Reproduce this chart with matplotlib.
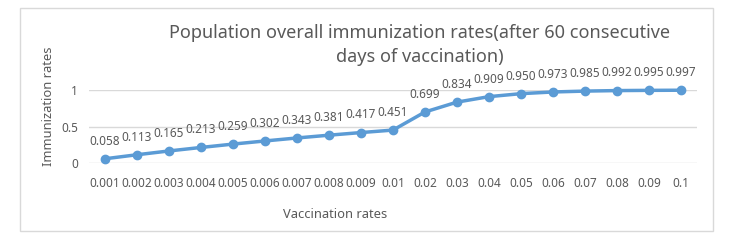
import matplotlib.pyplot as plt
from matplotlib.patches import Rectangle

vacc_labels = ['0.001', '0.002', '0.003', '0.004', '0.005', '0.006', '0.007',
               '0.008', '0.009', '0.01', '0.02', '0.03', '0.04', '0.05',
               '0.06', '0.07', '0.08', '0.09', '0.1']
immunization = [0.058, 0.113, 0.165, 0.213, 0.259, 0.302, 0.343, 0.381, 0.417,
                0.451, 0.699, 0.834, 0.909, 0.950, 0.973, 0.985, 0.992, 0.995,
                0.997]
y_ticks = [0, 0.5, 1]
y_tick_labels = ['0', '0.5', '1']

plt.rcParams['font.family'] = ['Noto Sans', 'DejaVu Sans']
txt = '#595959'
blue = '#5B9BD5'

W, H = 740, 244
fig = plt.figure(figsize=(W / 100, H / 100), dpi=100)

# chart border
fig.patches.append(Rectangle((20 / W, 1 - 231 / H), 693 / W, 223 / H,
                             transform=fig.transFigure, fill=False,
                             edgecolor='#D9D9D9', linewidth=1))

ax = fig.add_axes([89 / W, 1 - 163 / H, 608 / W, 73 / H])
x = list(range(len(vacc_labels)))
ax.plot(x, immunization, color=blue, linewidth=2.5, marker='o',
        markersize=6, clip_on=False, zorder=3)
for xi, v in zip(x, immunization):
    ax.annotate(f'{v:.3f}', (xi, v), xytext=(0, 8), textcoords='offset points',
                ha='center', va='bottom', fontsize=8.5, color=txt)

ax.set_xlim(-0.5, len(vacc_labels) - 0.5)
ax.set_ylim(0, 1)
ax.set_xticks(x)
ax.set_xticklabels(vacc_labels)
ax.set_yticks(y_ticks)
ax.set_yticklabels(y_tick_labels)
ax.tick_params(length=0, labelsize=8.5, colors=txt, pad=8)
ax.tick_params(axis='x', pad=10)
ax.yaxis.grid(True, color='#D9D9D9', linewidth=1)
ax.set_axisbelow(True)
for s in ax.spines.values():
    s.set_visible(False)

fig.text(48 / W, 1 - 106 / H, 'Immunization rates', rotation=90,
         ha='center', va='center', fontsize=9.3, color=txt)
fig.text(335 / W, 1 - 215 / H, 'Vaccination rates',
         ha='center', va='center', fontsize=9.3, color=txt)
fig.text(420 / W, 1 - 45 / H,
         'Population overall immunization rates(after 60 consecutive\ndays of vaccination)',
         ha='center', va='center', fontsize=13, color=txt, linespacing=1.5)

fig.savefig('out.png', dpi=100)
